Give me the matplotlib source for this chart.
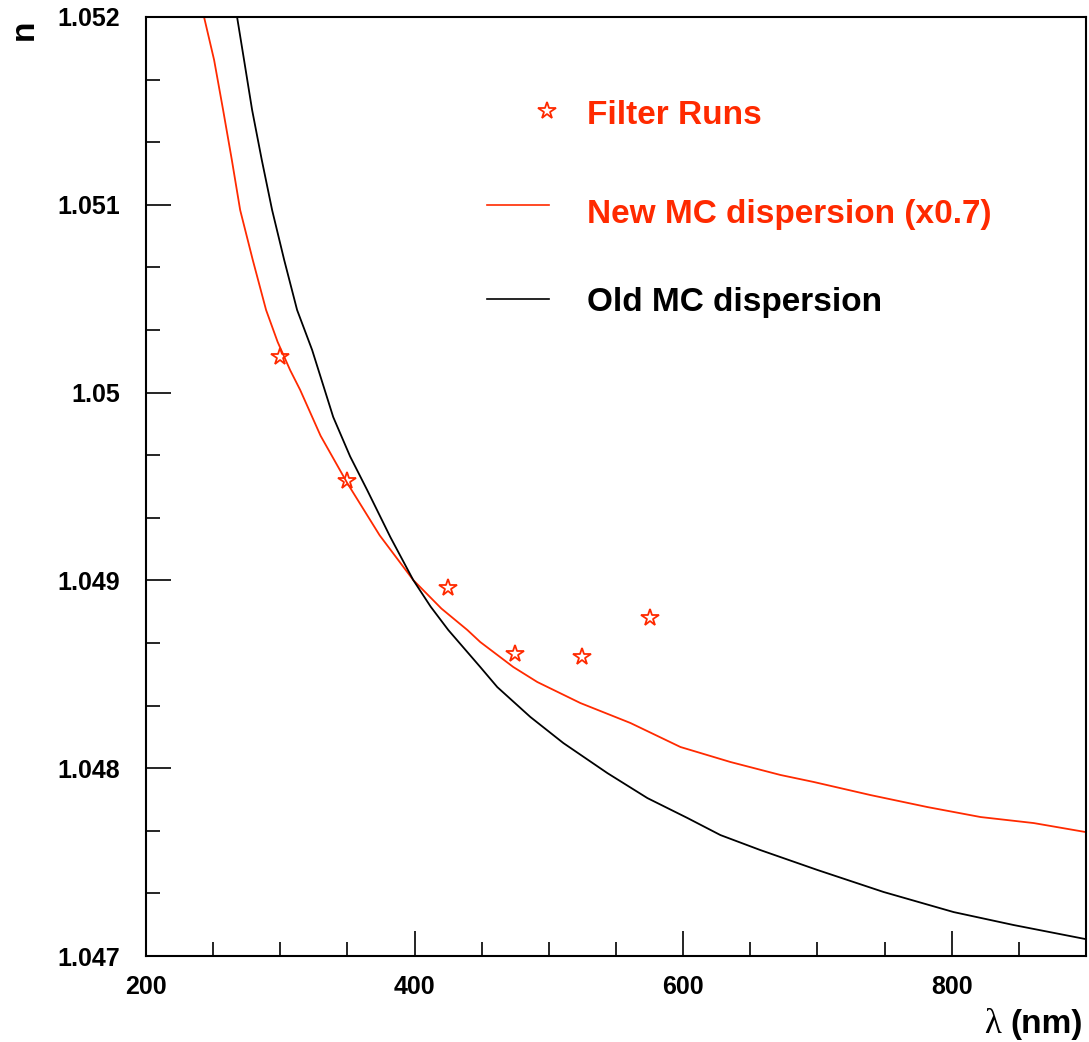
import matplotlib
matplotlib.use("Agg")
import matplotlib.pyplot as plt
from matplotlib.ticker import MultipleLocator, AutoMinorLocator, FuncFormatter
from matplotlib.lines import Line2D

plt.rcParams['font.family'] = ['Liberation Sans', 'DejaVu Sans']

RED = '#ff2a00'

# Filter runs (measured points)
filter_wl = [300, 350, 425, 475, 525, 575]
filter_n = [1.05019, 1.04953, 1.04896, 1.04861, 1.04859, 1.04880]

# New MC dispersion (x0.7)
new_wl = [243.2, 250.7, 257.4, 263.9, 270.1, 279.5, 289.4, 298.0, 307.3, 314.8,
          330.0, 349.8, 374.0, 399.0, 420.0, 439.3, 448.9,
          473.5, 491.4, 523.5, 560.7, 598.0, 635.3, 672.5, 697.1, 739.6, 782.1,
          821.6, 861.1, 899.9]
new_n = [1.05200, 1.051771, 1.051505, 1.051239, 1.050972, 1.050706, 1.050440,
         1.050270, 1.050120, 1.050014, 1.049770, 1.049519, 1.049240,
         1.049002, 1.048850, 1.048736, 1.048672, 1.048539, 1.048459, 1.048347,
         1.048241, 1.048113, 1.048033, 1.047964, 1.047927, 1.047857, 1.047793,
         1.047740, 1.047708, 1.047660]

# Old MC dispersion
old_wl = [267.8, 273.0, 279.0, 286.2, 293.9, 302.9, 312.5, 323.7, 339.4, 352.0,
          364.7, 382.0, 399.0, 412.0, 425.1, 448.9,
          461.6, 486.2, 510.8, 543.6, 573.4, 603.2, 627.8, 657.6, 700.1, 749.3,
          801.5, 846.2, 899.9]
old_n = [1.05200, 1.051771, 1.051505, 1.051239, 1.050972, 1.050706, 1.050440,
         1.050227, 1.049870, 1.049660, 1.049481, 1.049230, 1.049002, 1.048860,
         1.048736, 1.048539, 1.048432, 1.048273, 1.048134, 1.047974,
         1.047841, 1.047735, 1.047644, 1.047564, 1.047458, 1.047341, 1.047234,
         1.047165, 1.047090]

legend_labels = ['Filter Runs', 'New MC dispersion (x0.7)', 'Old MC dispersion']

fig = plt.figure(figsize=(10.89, 10.42), dpi=100)
ax = fig.add_axes([0.1341, 0.0825, 0.9972 - 0.1341, 0.9837 - 0.0825])

ax.plot(new_wl, new_n, color=RED, lw=1.3, clip_on=True)
ax.plot(old_wl, old_n, color='black', lw=1.3, clip_on=True)
ax.plot(filter_wl, filter_n, linestyle='none', marker='*', markersize=13,
        markerfacecolor='none', markeredgecolor=RED, markeredgewidth=1.3)

ax.set_xlim(200, 900)
ax.set_ylim(1.047, 1.052)

ax.xaxis.set_major_locator(MultipleLocator(200))
ax.xaxis.set_minor_locator(AutoMinorLocator(4))
ax.yaxis.set_major_locator(MultipleLocator(0.001))
ax.yaxis.set_minor_locator(AutoMinorLocator(3))
ax.yaxis.set_major_formatter(FuncFormatter(lambda v, p: '%g' % round(v, 6)))
ax.xaxis.set_major_formatter(FuncFormatter(lambda v, p: '%g' % v))

for s in ax.spines.values():
    s.set_linewidth(1.5)

ax.tick_params(axis='both', which='both', direction='in', top=False, right=False,
               width=1.2, labelsize=18)
ax.tick_params(axis='both', which='major', length=18)
ax.tick_params(axis='both', which='minor', length=10)
ax.tick_params(axis='y', which='major', pad=19)
ax.tick_params(axis='x', which='major', pad=14)
for lab in ax.get_xticklabels() + ax.get_yticklabels():
    lab.set_fontweight('bold')

# Axis titles (ROOT style placement)
ax.text(-0.1298, 0.997, 'n', transform=ax.transAxes, rotation=90,
        ha='center', va='top', fontsize=24, fontweight='bold')
ax.text(0.9968, -0.082, '(nm)', transform=ax.transAxes, ha='right',
        va='baseline', fontsize=24, fontweight='bold')
ax.text(0.9095, -0.082, 'λ', transform=ax.transAxes, ha='right',
        va='baseline', fontsize=25, family=['Liberation Serif', 'DejaVu Serif'])

# Legend (drawn in axes coordinates)
ax.add_line(Line2D([0.4266], [0.8999], transform=ax.transAxes, linestyle='none',
                   marker='*', markersize=13, markerfacecolor='none',
                   markeredgecolor=RED, markeredgewidth=1.3))
ax.add_line(Line2D([0.3628, 0.4287], [0.7998, 0.7998], transform=ax.transAxes,
                   color=RED, lw=1.2))
ax.add_line(Line2D([0.3628, 0.4287], [0.6997, 0.6997], transform=ax.transAxes,
                   color='black', lw=1.2))
ax.text(0.4691, 0.886, legend_labels[0], transform=ax.transAxes, color=RED,
        fontsize=24, fontweight='bold', va='baseline', ha='left')
ax.text(0.4691, 0.7806, legend_labels[1], transform=ax.transAxes, color=RED,
        fontsize=24, fontweight='bold', va='baseline', ha='left')
ax.text(0.4691, 0.6869, legend_labels[2], transform=ax.transAxes, color='black',
        fontsize=24, fontweight='bold', va='baseline', ha='left')

fig.savefig('out.png', dpi=100)
